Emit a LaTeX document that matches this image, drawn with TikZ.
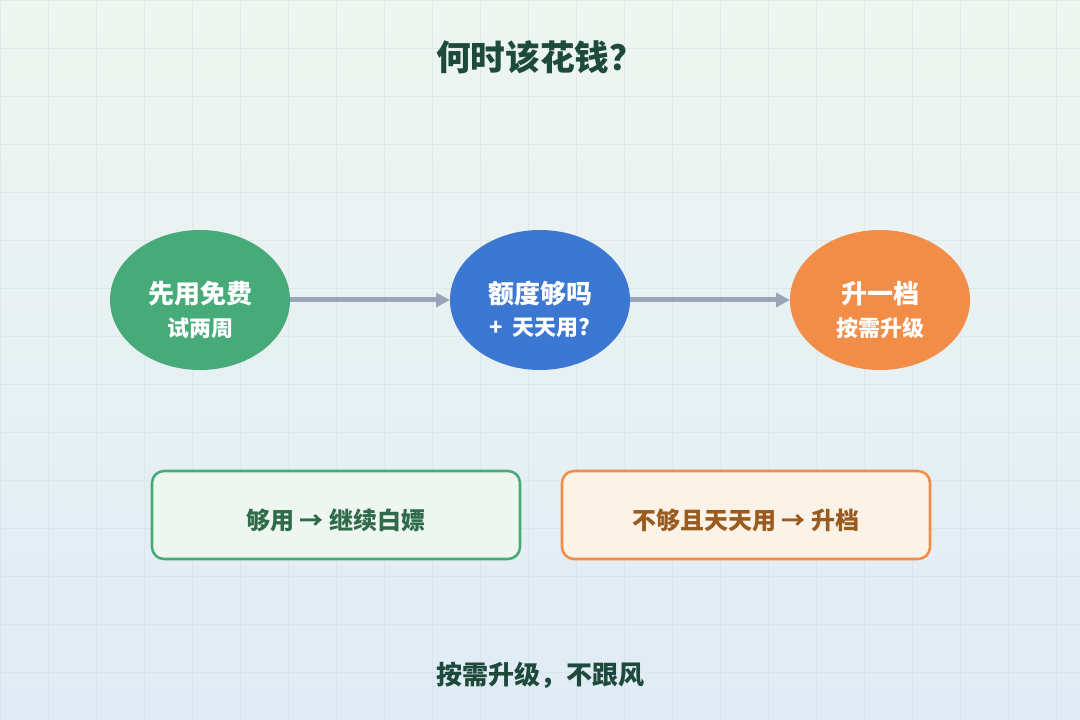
\documentclass[tikz,border=0pt]{standalone}
\usepackage{fontspec}
\newfontfamily\cjk{Noto Sans CJK SC}
\usetikzlibrary{arrows.meta, positioning, shapes.geometric}
\definecolor{bgTop}{HTML}{EEF6F0}
\definecolor{bgBottom}{HTML}{E1EBF5}
\definecolor{gridLine}{HTML}{C9D6E6}
\definecolor{mInk}{HTML}{1E4A3C}
\definecolor{mGreen}{HTML}{47AB79}
\definecolor{mBlue}{HTML}{3C77D1}
\definecolor{mOrange}{HTML}{F18D47}
\definecolor{mArrow}{HTML}{9AA5B8}
\definecolor{mGreenFill}{HTML}{EEF7EF}
\definecolor{mGreenText}{HTML}{2F6B4A}
\definecolor{mOrangeFill}{HTML}{FCF3E8}
\definecolor{mOrangeText}{HTML}{9A5B1F}

\begin{document}
\begin{tikzpicture}[x=0.75pt, y=0.75pt,
    stage/.style={ellipse, minimum width=135pt, minimum height=105pt, inner sep=0pt, outer sep=0pt},
    headline/.style={text=white, font=\cjk\bfseries\fontsize{19.5}{20}\selectfont},
    subline/.style={text=white, font=\cjk\bfseries\fontsize{16.5}{17}\selectfont},
    flow/.style={mArrow, line width=3.75pt, -{Triangle[length=10.5pt, width=10.5pt]}},
    verdict/.style={rounded corners=9pt, line width=1.9pt, minimum width=276pt, minimum height=66pt},
    verdicttext/.style={font=\cjk\bfseries\fontsize{18}{20}\selectfont},
  ]
    \useasboundingbox (0,0) rectangle (1080,720);
    % background
    \shade[top color=bgTop, bottom color=bgBottom] (0,0) rectangle (1080,720);
    \draw[gridLine, line width=0.6pt, opacity=0.35] (0,0) grid[step=36pt] (1080,720);

    \node[text=mInk, font=\cjk\bfseries\fontsize{26}{30}\selectfont] (title) at (540,663) {何时该花钱？};

    % the three stages
    \foreach \id/\x/\col/\head/\sub in {free/200/mGreen/先用免费/试两周,
        quota/540/mBlue/额度够吗/+\ \ 天天用?, upgrade/880/mOrange/升一档/按需升级} {
      \node[stage, fill=\col] (\id) at (\x,420) {};
      \node[headline] (\id-head) at (\x,426) {\head};
      \node[subline] (\id-sub) at (\x,392) {\sub};
    }
    \draw[flow] (free) -- (quota);
    \draw[flow] (quota) -- (upgrade);

    % outcomes
    \node[verdict, draw=mGreen, fill=mGreenFill] (enough) at (336,205) {};
    \node[verdicttext, text=mGreenText] (enough-text) at (336,200) {够用 → 继续白嫖};
    \node[verdict, draw=mOrange, fill=mOrangeFill] (short) at (746,205) {};
    \node[verdicttext, text=mOrangeText] (short-text) at (746,200) {不够且天天用 → 升档};

    \node[text=mInk, font=\cjk\bfseries\fontsize{19.5}{22}\selectfont] (motto) at (540,45) {按需升级，不跟风};
  \end{tikzpicture}
\end{document}
